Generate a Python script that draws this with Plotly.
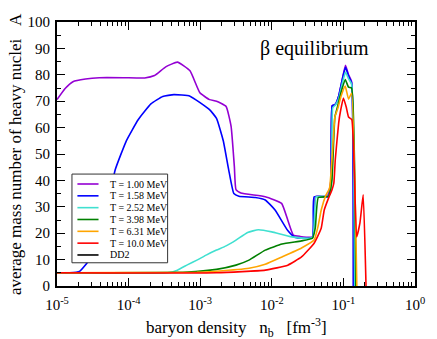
import plotly.graph_objects as go

# Average mass number of heavy nuclei vs baryon density (DD2, beta equilibrium)
labels = ["T = 1.00 MeV", "T = 1.58 MeV", "T = 2.52 MeV", "T = 3.98 MeV",
          "T = 6.31 MeV", "T = 10.0 MeV", "DD2"]
colors = ["#9400D3", "#0000FF", "#40E0D0", "#008000", "#FFA500", "#FF0000", "#000000"]

nb_t100 = [1.0e-5, 1.3e-5, 1.67e-5, 2.5e-5, 3.9e-5, 8.5e-5, 1.68e-4, 2.3e-4, 3.3e-4, 4.8e-4,
           7.2e-4, 9.9e-4, 1.35e-3, 1.69e-3, 2.3e-3, 2.7e-3, 3.0e-3, 3.16e-3, 3.7e-3,
           8.1e-3, 1.37e-2, 1.67e-2, 2.0e-2, 2.45e-2, 3.7e-2, 4.07e-2, 5.4e-2, 6.1e-2,
           6.7e-2, 6.97e-2, 7.7e-2, 8.6e-2, 9.6e-2, 0.107, 0.118, 0.13, 0.138]
A_t100 = [70.6, 74.8, 77.4, 78.4, 78.9, 78.9, 78.8, 79.7, 83.0, 84.8,
          81.5, 73.2, 70.6, 70.0, 68.0, 60.5, 45.2, 36.5, 35.2,
          33.8, 31.3, 25.0, 19.3, 18.8, 18.6, 33.9, 34.0, 34.5,
          40.0, 68.3, 68.8, 72.0, 78.0, 83.6, 80.0, 77.5, 0.0]

nb_t158 = [1.0e-5, 1.5e-5, 2.06e-5, 2.8e-5, 3.9e-5, 5.3e-5, 6.5e-5, 9.3e-5, 1.36e-4,
           2.05e-4, 3.0e-4, 4.3e-4, 7.2e-4, 1.35e-3, 1.69e-3, 2.1e-3, 2.5e-3, 2.95e-3,
           3.47e-3, 5.9e-3, 8.1e-3, 1.11e-2, 1.67e-2, 2.09e-2, 3.68e-2, 3.9e-2, 6.2e-2,
           6.7e-2, 6.97e-2, 7.7e-2, 8.6e-2, 9.6e-2, 0.107, 0.118, 0.13, 0.138]
A_t158 = [5.0, 5.0, 5.5, 9.8, 20.0, 32.6, 44.0, 55.0, 63.0,
          69.0, 71.8, 72.5, 71.9, 66.8, 63.5, 55.0, 44.0, 35.0,
          34.0, 33.5, 32.6, 28.8, 21.0, 18.5, 18.3, 33.8, 33.8,
          37.6, 68.3, 68.8, 72.0, 78.0, 82.8, 79.5, 77.0, 0.0]

nb_t252 = [1.0e-5, 3.5e-4, 4.8e-4, 6.6e-4, 9.0e-4, 1.23e-3, 1.69e-3, 2.3e-3, 3.16e-3,
           4.6e-3, 6.5e-3, 1.0e-2, 1.9e-2, 3.7e-2, 4.17e-2, 6.2e-2, 6.8e-2, 7.1e-2,
           7.7e-2, 8.6e-2, 9.6e-2, 0.107, 0.118, 0.13, 0.144]
A_t252 = [5.0, 5.0, 6.0, 8.0, 9.8, 11.8, 13.6, 15.2, 17.4,
          20.3, 21.3, 20.5, 18.6, 18.3, 33.8, 34.0, 38.0, 67.5,
          68.5, 71.0, 76.5, 81.0, 78.5, 76.5, 0.0]

nb_t398 = [1.0e-5, 6.6e-4, 1.69e-3, 3.16e-3, 4.8e-3, 8.1e-3, 1.39e-2, 2.6e-2, 3.7e-2,
           4.05e-2, 4.46e-2, 6.2e-2, 6.9e-2, 7.6e-2, 8.3e-2, 9.2e-2, 0.106, 0.118,
           0.13, 0.149]
A_t398 = [5.0, 5.3, 6.3, 7.9, 9.8, 13.6, 15.9, 17.1, 18.1,
          22.0, 33.5, 34.0, 40.0, 64.0, 68.0, 73.0, 78.2, 75.3,
          75.0, 0.0]

nb_t631 = [1.0e-5, 9.0e-4, 1.69e-3, 4.8e-3, 8.1e-3, 1.39e-2, 2.6e-2, 3.9e-2, 4.46e-2,
           4.9e-2, 5.7e-2, 6.4e-2, 7.0e-2, 7.6e-2, 8.3e-2, 9.3e-2, 0.106, 0.118,
           0.13, 0.154]
A_t631 = [5.0, 5.2, 5.6, 6.7, 8.2, 11.0, 14.4, 17.4, 23.0,
          28.8, 34.4, 37.0, 50.0, 64.0, 67.0, 72.0, 75.7, 70.8,
          73.0, 0.0]

nb_t1000 = [1.0e-5, 1.69e-3, 8.1e-3, 1.67e-2, 2.6e-2, 3.9e-2, 4.9e-2, 5.4e-2, 6.2e-2,
            6.9e-2, 7.35e-2, 7.7e-2, 8.6e-2, 9.1e-2, 0.1, 0.11, 0.118, 0.131,
            0.153, 0.17, 0.189, 0.207]
A_t1000 = [5.0, 5.0, 6.0, 7.9, 11.0, 16.2, 21.9, 28.8, 33.3,
           36.3, 39.0, 47.8, 61.9, 66.2, 71.2, 67.6, 64.0, 63.0,
           18.6, 23.8, 34.5, 0.0]

series = [(nb_t100, A_t100), (nb_t158, A_t158), (nb_t252, A_t252),
          (nb_t398, A_t398), (nb_t631, A_t631), (nb_t1000, A_t1000)]

x_tickvals = [1e-5, 1e-4, 1e-3, 1e-2, 1e-1, 1e0]
x_ticktext = ["10<sup>-5</sup>", "10<sup>-4</sup>", "10<sup>-3</sup>",
              "10<sup>-2</sup>", "10<sup>-1</sup>", "10<sup>0</sup>"]
y_tickvals = [0, 10, 20, 30, 40, 50, 60, 70, 80, 90, 100]

SERIF = "Liberation Serif"

fig = go.Figure()
for (nb, A), name, col in zip(series, labels, colors):
    fig.add_trace(go.Scatter(x=nb, y=A, mode="lines", name=name,
                             line=dict(color=col, width=1.6, shape="spline", smoothing=0.4),
                             showlegend=False))

# log minor ticks 2..9 in each decade
minor_vals = [m * 10.0 ** e for e in range(-5, 0) for m in range(2, 10)]

fig.update_xaxes(type="log", range=[-5, 0], tickvals=x_tickvals, ticktext=x_ticktext,
                 ticks="inside", ticklen=8, tickwidth=1.3, tickcolor="black",
                 minor=dict(ticks="inside", ticklen=4, tickwidth=1.1, tickcolor="black",
                            tickvals=minor_vals),
                 showline=True, linecolor="black", linewidth=1.8, mirror="allticks",
                 showgrid=False, zeroline=False, ticklabelstandoff=4,
                 tickfont=dict(family=SERIF, size=15, color="black"))
fig.update_yaxes(range=[0, 100], tickvals=y_tickvals,
                 ticks="inside", ticklen=8, tickwidth=1.3, tickcolor="black",
                 minor=dict(ticks="inside", ticklen=4, tickwidth=1.1, tickcolor="black", dtick=5),
                 showline=True, linecolor="black", linewidth=1.8, mirror="allticks",
                 showgrid=False, zeroline=False, ticklabelstandoff=2,
                 tickfont=dict(family=SERIF, size=15, color="black"))

annotations = [
    dict(text="baryon density\u00a0\u00a0\u00a0n<sub>b</sub>\u00a0\u00a0\u00a0[fm<sup>-3</sup>]",
         xref="paper", yref="paper", x=0.5, y=0, yshift=-41, xanchor="center", yanchor="middle",
         showarrow=False, font=dict(family=SERIF, size=17, color="black")),
    dict(text="average mass number of heavy nuclei\u00a0\u00a0\u00a0A",
         xref="paper", yref="paper", x=0, y=0.5, xshift=-42, xanchor="center", yanchor="middle",
         textangle=-90, showarrow=False, font=dict(family=SERIF, size=17, color="black")),
    dict(text="\u03b2\u00a0equilibrium", xref="paper", yref="paper", x=0.719, y=0.90,
         xanchor="center", yanchor="middle", showarrow=False,
         font=dict(family=SERIF, size=20, color="black")),
]

# hand-drawn legend box (compact rows)
shapes = [dict(type="rect", xref="paper", yref="paper", x0=0.0418, x1=0.309, y0=0.088, y1=0.424,
               line=dict(color="#333333", width=1), fillcolor="white", layer="above")]
row_top, row_step, plot_h = 184.0, 11.83, 264.0
for i, (name, col) in enumerate(zip(labels, colors)):
    yp = (286.0 - (row_top + i * row_step)) / plot_h
    shapes.append(dict(type="line", xref="paper", yref="paper", x0=0.057, x1=0.116, y0=yp, y1=yp,
                       line=dict(color=col, width=1.6), layer="above"))
    annotations.append(dict(text=name, xref="paper", yref="paper", x=0.143, y=yp,
                            xanchor="left", yanchor="middle", showarrow=False,
                            font=dict(family=SERIF, size=10, color="black")))

fig.update_layout(width=437, height=339, margin=dict(l=57, r=14, t=22, b=53),
                  paper_bgcolor="white", plot_bgcolor="white",
                  font=dict(family=SERIF, color="black"),
                  shapes=shapes, annotations=annotations, showlegend=False)

fig.write_html("out.html")
